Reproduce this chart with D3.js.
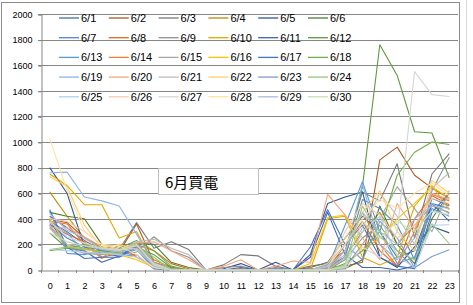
<!DOCTYPE html>
<html><head><meta charset="utf-8">
<script src="https://cdn.jsdelivr.net/npm/d3@7/dist/d3.min.js"></script>
<style>body{margin:0;background:#fff;}svg{display:block;}</style>
</head><body>
<svg id="c" width="473" height="305"></svg>
<script>
const hours = ["0","1","2","3","4","5","6","7","8","9","10","11","12","13","14","15","16","17","18","19","20","21","22","23"];
const yTicks = [0,200,400,600,800,1000,1200,1400,1600,1800,2000];
const seriesNames = ["6/1","6/2","6/3","6/4","6/5","6/6","6/7","6/8","6/9","6/10","6/11","6/12","6/13","6/14","6/15","6/16","6/17","6/18","6/19","6/20","6/21","6/22","6/23","6/24","6/25","6/26","6/27","6/28","6/29","6/30"];
const seriesColors = [
 "#41719C","#AE5A21","#787878","#BC8C00","#2F5597","#507E32",
 "#4E88C6","#D06C28","#909090","#E0A800","#3C64B0","#62963E",
 "#5B9BD5","#ED7D31","#A5A5A5","#FFC000","#4472C4","#70AD47",
 "#8DB4E2","#F4A57E","#BDBDBD","#FFD06A","#7F9BD3","#98C77A",
 "#B4CDEB","#F8CBAD","#D6D6D6","#FFE0A0","#A9BCE5","#C5DFB3"];
const v01 = [380,300,200,150,140,180,30,10,0,0,0,0,0,0,0,20,60,250,420,300,100,150,520,480];
const v02 = [400,370,250,180,140,360,60,20,0,0,0,10,0,0,0,10,20,30,60,860,960,740,640,560];
const v03 = [420,330,230,150,160,370,170,220,160,0,40,120,110,30,0,30,50,150,610,540,830,250,750,910];
const v04 = [610,420,250,170,150,200,80,20,0,0,0,0,0,0,0,0,10,100,300,450,200,350,500,450];
const v05 = [800,600,180,130,110,190,40,10,0,0,10,50,0,60,0,120,520,570,610,100,20,180,340,290];
const v06 = [450,420,400,200,190,210,200,60,20,0,0,0,0,0,0,0,0,10,80,500,200,50,400,600];
const v07 = [360,250,180,160,130,170,20,0,0,0,0,0,0,0,0,0,30,100,550,480,350,80,560,500];
const v08 = [350,280,220,100,130,200,150,50,10,0,0,0,0,0,0,0,0,200,380,150,30,400,580,510];
const v09 = [340,200,170,140,120,140,260,150,100,0,20,30,0,20,0,0,0,80,250,350,150,10,620,880];
const v10 = [750,660,510,510,250,300,50,0,0,0,0,0,0,0,0,0,400,420,100,40,100,500,660,470];
const v11 = [390,170,150,60,110,120,10,0,0,0,0,20,0,10,0,100,450,120,20,20,0,30,520,380];
const v12 = [290,170,160,150,140,180,120,20,0,0,0,0,0,0,0,0,0,100,650,1760,1520,1080,1070,720];
const v13 = [460,130,120,150,110,160,10,0,0,0,0,0,0,0,0,0,20,350,690,300,50,100,480,420];
const v14 = [380,360,200,90,200,100,30,10,0,0,0,0,0,0,0,0,10,150,450,200,30,300,590,540];
const v15 = [330,180,130,120,130,210,60,10,0,0,0,0,0,0,0,0,0,20,200,400,650,480,300,620];
const v16 = [400,190,160,140,120,80,20,0,0,0,0,0,0,0,0,50,410,430,150,250,400,520,650,560];
const v17 = [470,180,90,100,100,180,20,0,0,0,0,0,0,0,0,180,470,200,350,100,30,10,450,600];
const v18 = [150,170,200,180,170,230,150,30,0,0,0,0,0,0,0,0,0,50,150,300,740,920,1000,980];
const v19 = [760,765,570,540,500,280,50,10,0,0,0,0,0,0,0,0,20,120,670,200,80,250,520,440];
const v20 = [330,330,260,180,150,210,220,150,80,0,30,80,0,30,70,60,590,430,250,80,520,320,600,550];
const v21 = [350,200,190,160,150,220,240,170,120,0,0,0,0,0,0,0,0,100,330,600,420,200,640,760];
const v22 = [730,650,350,170,200,160,40,0,0,0,0,0,0,0,0,0,50,250,450,620,300,150,700,600];
const v23 = [370,290,140,130,150,200,30,0,0,0,0,0,0,0,0,0,40,200,80,380,250,18,106,158];
const v24 = [160,180,170,140,130,190,100,0,0,0,0,0,0,0,0,0,0,40,500,260,150,80,360,205];
const v25 = [160,150,140,130,120,100,20,0,0,0,0,0,0,0,0,0,0,20,300,420,110,20,350,353];
const v26 = [400,380,300,200,160,190,50,0,0,0,0,0,0,0,0,0,0,300,520,430,250,350,560,520];
const v27 = [380,260,210,170,160,170,30,0,0,0,0,0,0,0,0,0,0,0,180,100,300,1550,1370,1355];
const v28 = [1030,620,300,200,190,120,20,0,0,0,0,0,0,0,0,0,30,200,400,550,480,600,680,580];
const v29 = [440,310,250,160,140,170,30,0,0,0,0,0,0,0,0,0,30,150,450,300,200,400,500,480];
const v30 = [290,220,190,170,150,200,40,0,0,0,0,0,0,0,0,0,0,30,380,250,380,300,460,430];
const seriesValues = [v01,v02,v03,v04,v05,v06,v07,v08,v09,v10,v11,v12,v13,v14,v15,v16,v17,v18,v19,v20,v21,v22,v23,v24,v25,v26,v27,v28,v29,v30];
const chartTitle = "6月買電";

const svg = d3.select("#c");
const font = "'Liberation Sans', Arial, sans-serif";
// background sheet artifacts
svg.append("line").attr("x1",466.5).attr("x2",466.5).attr("y1",0).attr("y2",305).attr("stroke","#d4dbe8");
// chart area border
svg.append("rect").attr("x",1.5).attr("y",2.5).attr("width",458).attr("height",300)
  .attr("fill","#fff").attr("stroke","#8c8c8c").attr("stroke-width",1);

const L = 41, R = 458, T = 14, B = 270;
const x = d3.scaleBand().domain(hours).range([L, R]);
const y = d3.scaleLinear().domain([0, 2000]).range([B, T]);

// gridlines
svg.append("g").selectAll("line").data(yTicks.filter(d=>d>0)).join("line")
  .attr("x1",L-3).attr("x2",R).attr("y1",d=>Math.round(y(d))+0.5).attr("y2",d=>Math.round(y(d))+0.5)
  .attr("stroke","#868686").attr("stroke-width",1);

// y axis
const ya = svg.append("g").attr("transform",`translate(${L+0.5},0.5)`)
  .call(d3.axisLeft(y).tickValues(yTicks).tickSize(3).tickPadding(6).tickFormat(d3.format("d")));
ya.select(".domain").attr("stroke","#868686");
ya.selectAll(".tick line").attr("stroke","#868686");
ya.selectAll("text").attr("font-family",font).attr("font-size",9).attr("fill","#000");

// x axis
const xa = svg.append("g").attr("transform",`translate(0.5,${Math.round(B)+0.5})`)
  .call(d3.axisBottom(x).tickSize(0).tickPadding(12));
xa.select(".domain").attr("stroke","#868686");
xa.selectAll("text").attr("font-family",font).attr("font-size",9).attr("fill","#000");
svg.append("g").selectAll("line").data(d3.range(hours.length+1)).join("line")
  .attr("x1",i=>Math.round(L + i*x.step())+0.5).attr("x2",i=>Math.round(L + i*x.step())+0.5)
  .attr("y1",B).attr("y2",B+3).attr("stroke","#868686");

// lines
const line = d3.line().x((d,i)=>x(hours[i])+x.bandwidth()/2).y(d=>y(d));
svg.append("g").selectAll("path").data(seriesValues).join("path")
  .attr("d",d=>line(d)).attr("fill","none")
  .attr("stroke",(d,i)=>seriesColors[i]).attr("stroke-width",1.1).attr("stroke-linejoin","round");

// legend
const lg = svg.append("g");
seriesNames.forEach((n,i)=>{
  const col = i%6, row = Math.floor(i/6);
  const lx = 59 + col*49.8, ly = 18 + row*19.7;
  lg.append("line").attr("x1",lx).attr("x2",lx+20).attr("y1",ly).attr("y2",ly)
    .attr("stroke",seriesColors[i]).attr("stroke-width",1.3);
  lg.append("text").attr("x",lx+22).attr("y",ly+4).text(n)
    .attr("font-family",font).attr("font-size",11).attr("fill","#000");
});

// title box
svg.append("rect").attr("x",158.5).attr("y",168.5).attr("width",100).attr("height",26)
  .attr("fill","#fff").attr("stroke","#bfbfbf");
svg.append("text").attr("x",165).attr("y",188).text(chartTitle)
  .attr("font-family","'Noto Sans CJK TC','Noto Sans CJK SC',sans-serif").attr("font-size",15).attr("fill","#000");
</script>
</body></html>
